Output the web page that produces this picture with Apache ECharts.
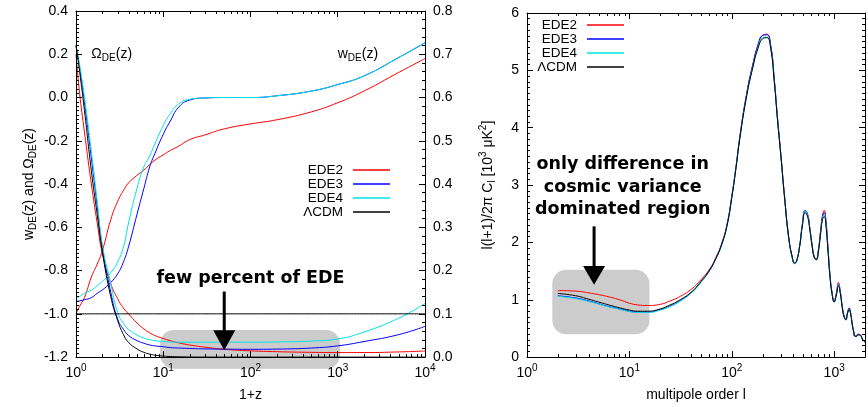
<!DOCTYPE html>
<html><head><meta charset="utf-8">
<script src="https://cdn.jsdelivr.net/npm/echarts@6/dist/echarts.min.js"></script>
<style>html,body{margin:0;padding:0;background:#fff}#c{width:868px;height:407px}</style>
</head><body><div id="c"></div>
<script>
// ---------- data ----------
const modelNames = ['EDE2', 'EDE3', 'EDE4', 'ΛCDM'];

// left panel: 1+z
const zX = [1, 1.1, 1.25, 1.5, 1.75, 2, 2.5, 3, 3.5, 4, 5, 6, 7, 8, 10, 12, 15, 20, 30, 50, 100, 200, 500, 1000, 2000, 5000, 10000];
// w_DE(z) (left axis)
const wEDE2 = [-1.0, -0.965, -0.925, -0.83, -0.77, -0.71, -0.565, -0.48, -0.43, -0.395, -0.36, -0.335, -0.31, -0.29, -0.265, -0.245, -0.225, -0.195, -0.173, -0.145, -0.122, -0.103, -0.066, -0.024, 0.03, 0.116, 0.18];
const wEDE3 = [-0.943, -0.94, -0.935, -0.925, -0.905, -0.89, -0.855, -0.815, -0.76, -0.69, -0.54, -0.42, -0.32, -0.26, -0.17, -0.11, -0.045, -0.012, -0.002, 0.0, 0.0, 0.008, 0.03, 0.06, 0.1, 0.185, 0.253];
const wEDE4 = [-0.93, -0.92, -0.905, -0.89, -0.87, -0.85, -0.81, -0.76, -0.69, -0.58, -0.42, -0.32, -0.27, -0.215, -0.13, -0.075, -0.03, -0.008, -0.002, 0.0, 0.0, 0.008, 0.03, 0.06, 0.1, 0.185, 0.253];
const wLCDM = [-1, -1, -1, -1, -1, -1, -1, -1, -1, -1, -1, -1, -1, -1, -1, -1, -1, -1, -1, -1, -1, -1, -1, -1, -1, -1, -1];
// Omega_DE(z) (right axis)
const omEDE2 = [0.70, 0.61, 0.52, 0.40, 0.31, 0.24, 0.17, 0.135, 0.113, 0.1, 0.079, 0.065, 0.056, 0.05, 0.043, 0.038, 0.033, 0.028, 0.023, 0.018, 0.0145, 0.0125, 0.011, 0.0105, 0.0105, 0.012, 0.014];
const omEDE3 = [0.72, 0.67, 0.59, 0.46, 0.35, 0.255, 0.15, 0.088, 0.064, 0.05, 0.038, 0.032, 0.028, 0.026, 0.024, 0.022, 0.021, 0.02, 0.019, 0.0185, 0.018, 0.0185, 0.021, 0.026, 0.036, 0.052, 0.071];
const omEDE4 = [0.72, 0.675, 0.6, 0.475, 0.36, 0.26, 0.17, 0.103, 0.078, 0.064, 0.051, 0.044, 0.04, 0.038, 0.036, 0.035, 0.0345, 0.0345, 0.0345, 0.0345, 0.0345, 0.035, 0.037, 0.042, 0.058, 0.09, 0.124];
const omLCDM = [0.72, 0.66, 0.57, 0.43, 0.33, 0.245, 0.14, 0.085, 0.052, 0.034, 0.019, 0.011, 0.007, 0.0045, 0.0024, 0.0014, 0.0007, 0.0003, 0.0001, 0, 0, 0, 0, 0, 0, 0, 0];

// right panel: multipole l and l(l+1)/2pi C_l [10^3 uK^2]
const ell = [2, 3, 4, 5, 6, 8, 10, 12, 15, 20, 25, 30, 40, 50, 60, 70, 80, 90, 100, 110, 120, 140, 160, 180, 200, 220, 240, 260, 280, 300, 330, 360, 390, 410, 430, 460, 490, 520, 550, 580, 610, 640, 670, 700, 740, 770, 800, 830, 870, 910, 950, 1000, 1050, 1100, 1150, 1200, 1250, 1300, 1350, 1400, 1450, 1500, 1550, 1600, 1650, 1700, 1800, 1900, 2000];
const clEDE2 = [1.16, 1.15, 1.12, 1.09, 1.06, 1.0, 0.94, 0.91, 0.9, 0.92, 0.98, 1.04, 1.18, 1.35, 1.52, 1.74, 1.99, 2.32, 2.8, 3.32, 3.85, 4.6, 5.09, 5.44, 5.61, 5.63, 5.44, 4.85, 4.16, 3.58, 2.74, 2.09, 1.74, 1.64, 1.68, 1.94, 2.32, 2.55, 2.49, 2.24, 1.95, 1.75, 1.72, 1.86, 2.23, 2.48, 2.56, 2.4, 1.92, 1.44, 1.15, 0.98, 1.12, 1.3, 1.14, 0.89, 0.72, 0.66, 0.78, 0.86, 0.77, 0.59, 0.45, 0.37, 0.37, 0.4, 0.39, 0.31, 0.27];
const clEDE3 = [1.07, 1.03, 0.98, 0.93, 0.89, 0.84, 0.8, 0.785, 0.785, 0.825, 0.89, 0.96, 1.12, 1.31, 1.5, 1.72, 1.98, 2.31, 2.8, 3.32, 3.85, 4.6, 5.09, 5.44, 5.61, 5.62, 5.43, 4.84, 4.15, 3.57, 2.73, 2.08, 1.73, 1.63, 1.67, 1.94, 2.33, 2.56, 2.49, 2.23, 1.94, 1.74, 1.7, 1.85, 2.22, 2.45, 2.52, 2.36, 1.89, 1.42, 1.13, 0.97, 1.1, 1.27, 1.12, 0.87, 0.71, 0.655, 0.77, 0.85, 0.76, 0.58, 0.445, 0.365, 0.365, 0.395, 0.385, 0.305, 0.265];
const clEDE4 = [1.06, 1.02, 0.97, 0.925, 0.885, 0.835, 0.795, 0.78, 0.78, 0.82, 0.885, 0.955, 1.115, 1.305, 1.495, 1.715, 1.97, 2.3, 2.79, 3.31, 3.83, 4.57, 5.05, 5.4, 5.57, 5.58, 5.39, 4.81, 4.13, 3.55, 2.72, 2.07, 1.73, 1.63, 1.67, 1.93, 2.32, 2.55, 2.48, 2.22, 1.93, 1.73, 1.69, 1.83, 2.19, 2.42, 2.48, 2.33, 1.87, 1.41, 1.12, 0.96, 1.09, 1.26, 1.11, 0.86, 0.7, 0.65, 0.765, 0.84, 0.75, 0.575, 0.44, 0.36, 0.36, 0.39, 0.38, 0.3, 0.26];
const clLCDM = [1.11, 1.07, 1.01, 0.96, 0.92, 0.86, 0.82, 0.8, 0.8, 0.84, 0.91, 0.98, 1.13, 1.32, 1.5, 1.72, 1.97, 2.3, 2.78, 3.3, 3.82, 4.56, 5.04, 5.38, 5.55, 5.57, 5.38, 4.8, 4.12, 3.55, 2.72, 2.08, 1.74, 1.64, 1.68, 1.93, 2.3, 2.52, 2.45, 2.2, 1.92, 1.73, 1.7, 1.83, 2.18, 2.4, 2.45, 2.3, 1.85, 1.4, 1.12, 0.96, 1.08, 1.24, 1.1, 0.86, 0.7, 0.65, 0.76, 0.83, 0.74, 0.57, 0.44, 0.36, 0.36, 0.39, 0.38, 0.3, 0.26];

// axis ranges
const leftXRange = [1, 10000], leftYRange = [-1.2, 0.4], leftY2Range = [0, 0.8];
const rightXRange = [1, 2000], rightYRange = [0, 6];

// annotations (data coordinates)
const leftBox = [[9.2, -1.0745], [1060, -1.254]];
const leftArrow = { x: 50, from: -0.897, base: -1.076, tip: -1.168 };
const leftNote = { x: 100, y: -0.837, text: 'few percent of EDE' };
const omegaLabelPos = [1.5, 0.2], wLabelPos = [1000, 0.2];
const rightBox = [[1.766, 1.522], [15.7, 0.398]];
const rightArrow = { x: 4.52, from: 2.28, base: 1.59, tip: 1.26 };
const rightNote = { x: 8.6, y: 2.96, text: 'only difference in\ncosmic variance\ndominated region' };

// ---------- styling ----------
const colors = ['#ff0000', '#0000ff', '#00e5e5', '#000000'];
const FONT = '"Liberation Sans", Arial, sans-serif';
const BOLD = 'bold 17.5px "DejaVu Sans", sans-serif';

const pairs = (xs, ys) => xs.map((x, i) => [x, ys[i]]);
const supLabel = v => {
  const e = Math.log10(v), r = Math.round(e);
  if (Math.abs(e - r) > 1e-6) return '';
  return '{b|10}{p|' + r + '}';
};
const tickRich = {
  b: { fontSize: 14, lineHeight: 18, fontFamily: FONT, color: '#000' },
  p: { fontSize: 10, lineHeight: 18, padding: [0, 0, 10, 0], fontFamily: FONT, color: '#000' }
};
const nameRich = {
  a: { fontSize: 14, lineHeight: 18, fontFamily: FONT, color: '#000' },
  s: { fontSize: 10, lineHeight: 18, padding: [8, 0, 0, 0], fontFamily: FONT, color: '#000' },
  p: { fontSize: 10, lineHeight: 18, padding: [0, 0, 10, 0], fontFamily: FONT, color: '#000' }
};
const axisLine = { show: true, onZero: false, lineStyle: { color: '#000', width: 1 } };

function logX(gridIndex, range, position, withLabels, name) {
  return {
    type: 'log', logBase: 10, gridIndex, position, min: range[0], max: range[1], z: 3,
    axisLine, splitLine: { show: false },
    axisTick: { show: true, inside: true, length: 6, lineStyle: { color: '#000' } },
    minorTick: { show: false },
    axisLabel: withLabels ? { show: true, margin: 7, formatter: supLabel, rich: tickRich } : { show: false },
    name: name || '', nameLocation: 'middle', nameGap: 26,
    nameTextStyle: { fontSize: 14, fontFamily: FONT, color: '#000' }
  };
}
function linY(gridIndex, range, interval, split, position, withLabels, fmt, name, nameGap) {
  return {
    type: 'value', gridIndex, position, min: range[0], max: range[1], interval, z: 3,
    axisLine, splitLine: { show: false },
    axisTick: { show: true, inside: true, length: 6, lineStyle: { color: '#000' } },
    minorTick: { show: true, splitNumber: split, length: 3, lineStyle: { color: '#000' } },
    axisLabel: withLabels ? { show: true, margin: 8, fontSize: 14, fontFamily: FONT, color: '#000', formatter: fmt } : { show: false },
    name: name || '', nameLocation: 'middle', nameGap: nameGap || 30,
    nameTextStyle: { rich: nameRich }
  };
}

function logMinor(max) {
  const out = [];
  for (let e = 0; e < 5; e++) for (let m = 2; m <= 9; m++) {
    const v = m * Math.pow(10, e);
    if (v < max) out.push(v);
  }
  return out;
}
function minorTickSeries(xi, yi, xr, yr) {
  return {
    type: 'custom', xAxisIndex: xi, yAxisIndex: yi, z: 6, silent: true, clip: false,
    data: logMinor(xr[1]).map(v => [v, yr[0]]),
    renderItem: (params, api) => {
      const x = api.value(0);
      const b = api.coord([x, yr[0]]), t = api.coord([x, yr[1]]);
      const px = Math.round(b[0]) + 0.5;
      return { type: 'group', children: [
        { type: 'line', shape: { x1: px, y1: b[1], x2: px, y2: b[1] - 3 }, style: { stroke: '#000', lineWidth: 1 } },
        { type: 'line', shape: { x1: px, y1: t[1], x2: px, y2: t[1] + 3 }, style: { stroke: '#000', lineWidth: 1 } }
      ] };
    }
  };
}
function boxSeries(xi, yi, box) {
  return {
    type: 'custom', xAxisIndex: xi, yAxisIndex: yi, z: 1, silent: true, clip: false,
    data: [[box[0][0], box[0][1]]],
    renderItem: (params, api) => {
      const p0 = api.coord(box[0]), p1 = api.coord(box[1]);
      return { type: 'rect', shape: { x: p0[0], y: p0[1], width: p1[0] - p0[0], height: p1[1] - p0[1], r: 14 }, style: { fill: '#cccccc' } };
    }
  };
}
function noteSeries(xi, yi, arrow, note, lh) {
  return {
    type: 'custom', xAxisIndex: xi, yAxisIndex: yi, z: 7, silent: true, clip: false,
    data: [[arrow.x, arrow.from]],
    renderItem: (params, api) => {
      const a = api.coord([arrow.x, arrow.from]), b = api.coord([arrow.x, arrow.base]), t = api.coord([arrow.x, arrow.tip]);
      const n = api.coord([note.x, note.y]);
      return { type: 'group', children: [
        { type: 'line', shape: { x1: a[0], y1: a[1], x2: b[0], y2: b[1] + 1 }, style: { stroke: '#000', lineWidth: 3 } },
        { type: 'polygon', shape: { points: [[b[0] - 11, b[1]], [b[0] + 11, b[1]], [t[0], t[1]]] }, style: { fill: '#000' } },
        { type: 'text', style: { text: note.text, x: n[0], y: n[1], font: BOLD, fill: '#000', align: 'center', verticalAlign: 'middle', lineHeight: lh } }
      ] };
    }
  };
}
function curveLabelSeries() {
  return {
    type: 'custom', xAxisIndex: 0, yAxisIndex: 0, z: 7, silent: true, clip: false,
    data: [omegaLabelPos],
    renderItem: (params, api) => {
      const o = api.coord(omegaLabelPos), w = api.coord(wLabelPos);
      return { type: 'group', children: [
        { type: 'text', style: { text: '{a|Ω}{s|DE}{a|(z)}', rich: nameRich, x: o[0], y: o[1], align: 'left', verticalAlign: 'middle' } },
        { type: 'text', style: { text: '{a|w}{s|DE}{a|(z)}', rich: nameRich, x: w[0], y: w[1], align: 'left', verticalAlign: 'middle' } }
      ] };
    }
  };
}

const series = [];
series.push(boxSeries(0, 0, leftBox));
series.push(boxSeries(2, 2, rightBox));
const wSets = [wEDE2, wEDE3, wEDE4, wLCDM];
const omSets = [omEDE2, omEDE3, omEDE4, omLCDM];
const clSets = [clEDE2, clEDE3, clEDE4, clLCDM];
modelNames.forEach((name, i) => {
  const base = {
    type: 'line', name, showSymbol: false, symbol: 'none', smooth: 0.5, z: 2,
    lineStyle: { color: colors[i], width: 1 }, itemStyle: { color: colors[i] },
    emphasis: { disabled: true }, animation: false
  };
  series.push(Object.assign({}, base, { xAxisIndex: 0, yAxisIndex: 0, data: pairs(zX, wSets[i]) }));
  series.push(Object.assign({}, base, { xAxisIndex: 0, yAxisIndex: 1, data: pairs(zX, omSets[i]) }));
  series.push(Object.assign({}, base, { xAxisIndex: 2, yAxisIndex: 2, data: pairs(ell, clSets[i]) }));
});
series.push(minorTickSeries(0, 0, leftXRange, leftYRange));
series.push(minorTickSeries(2, 2, rightXRange, rightYRange));
series.push(noteSeries(0, 0, leftArrow, leftNote, 22));
series.push(noteSeries(2, 2, rightArrow, rightNote, 22.5));
series.push(curveLabelSeries());

const legendBase = {
  data: modelNames, orient: 'vertical', align: 'right', padding: 0, itemGap: 0,
  itemWidth: 37, itemHeight: 1.3, icon: 'rect', selectedMode: false,
  textStyle: { fontSize: 13.5, lineHeight: 13.7, color: '#000', fontFamily: FONT, padding: [0, 5, 0, 0] }
};

const option = {
  animation: false,
  backgroundColor: '#fff',
  textStyle: { fontFamily: FONT },
  grid: [
    { left: 76, top: 11, width: 349, height: 348 },
    { left: 527, top: 13, width: 348, height: 347 }
  ],
  legend: [
    Object.assign({}, legendBase, { right: 478, top: 163 }),
    Object.assign({}, legendBase, { right: 244, top: 18 })
  ],
  xAxis: [
    logX(0, leftXRange, 'bottom', true, '1+z'),
    logX(0, leftXRange, 'top', false),
    logX(1, rightXRange, 'bottom', true, 'multipole order l'),
    logX(1, rightXRange, 'top', false)
  ],
  yAxis: [
    linY(0, leftYRange, 0.2, 10, 'left', true, v => v.toFixed(1), '{a|w}{s|DE}{a|(z) and Ω}{s|DE}{a|(z)}', 38),
    linY(0, leftY2Range, 0.1, 5, 'right', true, v => v.toFixed(1)),
    linY(1, rightYRange, 1, 10, 'left', true, v => String(v), '{a|l(l+1)/2π C}{s|l}{a| [10}{p|3}{a| μK}{p|2}{a|]}', 30),
    linY(1, rightYRange, 1, 10, 'right', false)
  ],
  series
};
const chart = echarts.init(document.getElementById('c'));
chart.setOption(option);
</script>
</body></html>
